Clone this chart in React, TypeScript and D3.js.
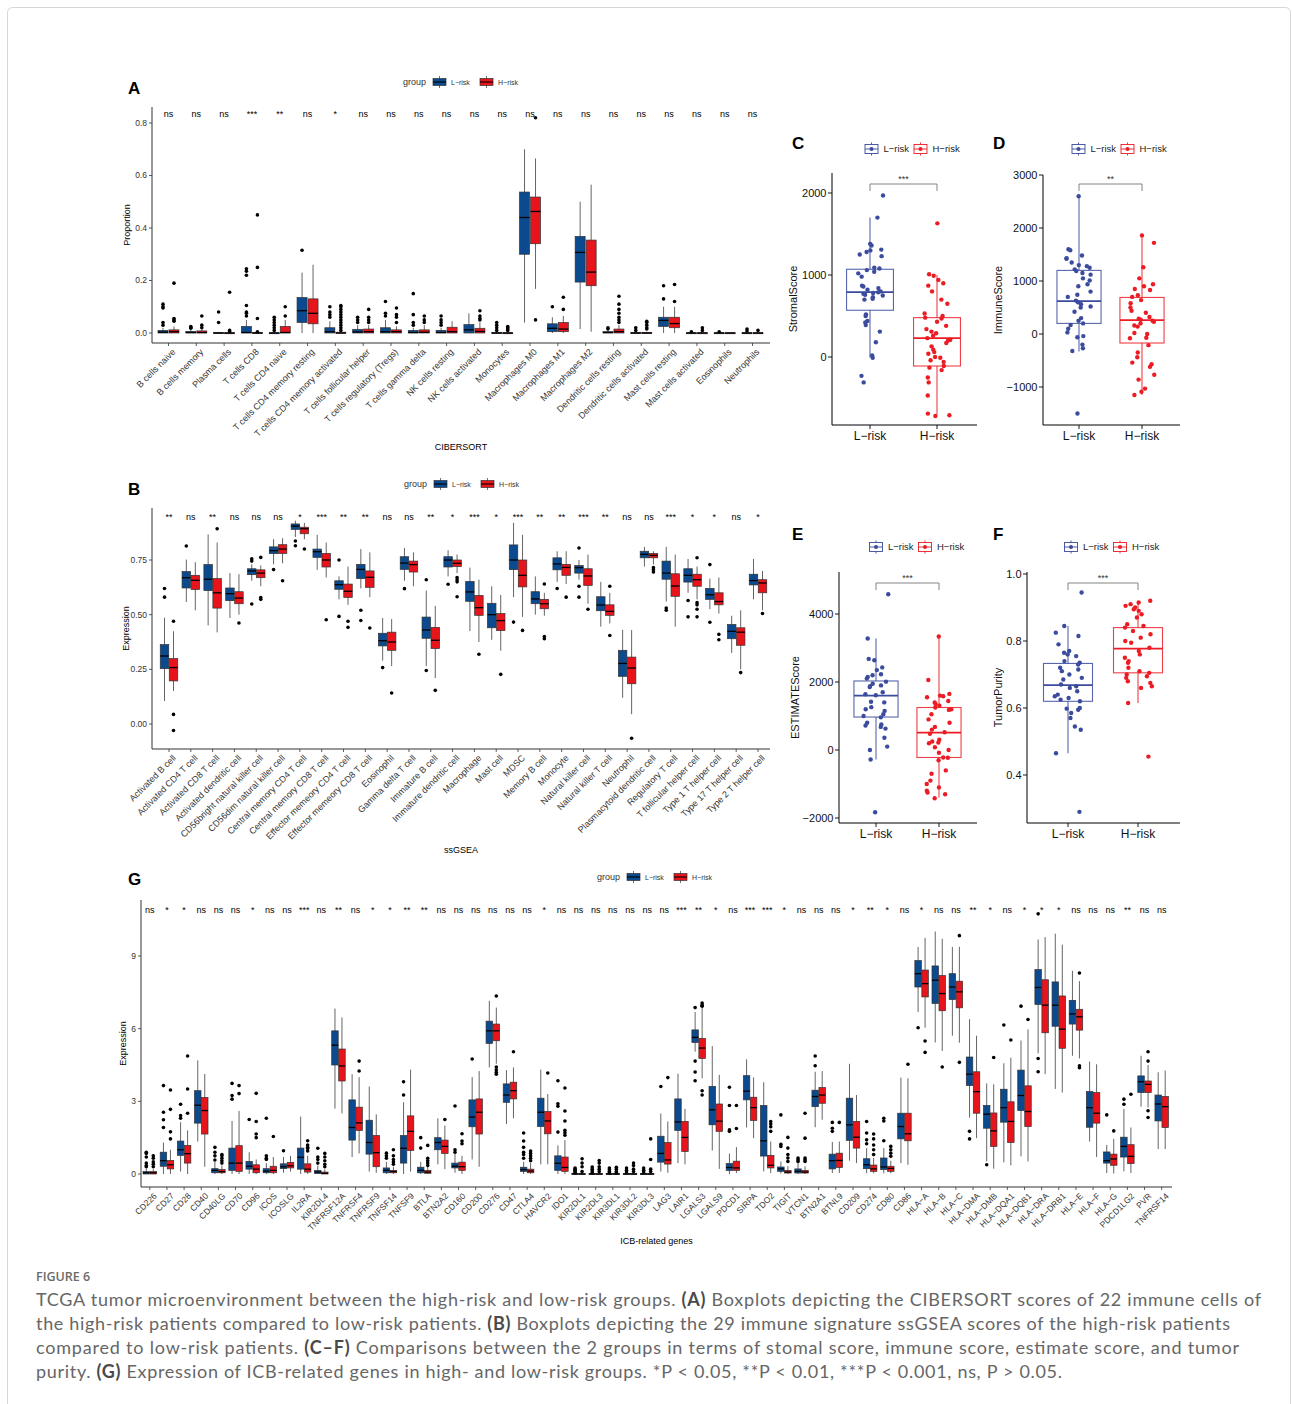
import React from 'react';
import * as d3 from 'd3';

// [lower whisker, q1, median, q3, upper whisker, outliers]
type Box = [number, number, number, number, number, number[]];

if (typeof document !== 'undefined') document.body.style.margin = '0';

const SANS = 'Liberation Sans, Arial, Helvetica, sans-serif';
const LOW = '#0B4A8E';
const HIGH = '#E8141B';
const DOT_LOW = '#3B4B9E';
const DOT_HIGH = '#EC1C24';
const groups = ['L−risk', 'H−risk'];

// ---------- A: CIBERSORT ----------
const aCats = ['B cells naive', 'B cells memory', 'Plasma cells', 'T cells CD8', 'T cells CD4 naive',
  'T cells CD4 memory resting', 'T cells CD4 memory activated', 'T cells follicular helper',
  'T cells regulatory (Tregs)', 'T cells gamma delta', 'NK cells resting', 'NK cells activated',
  'Monocytes', 'Macrophages M0', 'Macrophages M1', 'Macrophages M2', 'Dendritic cells resting',
  'Dendritic cells activated', 'Mast cells resting', 'Mast cells activated', 'Eosinophils', 'Neutrophils'];
const aSig = ['ns', 'ns', 'ns', '***', '**', 'ns', '*', 'ns', 'ns', 'ns', 'ns', 'ns', 'ns', 'ns', 'ns',
  'ns', 'ns', 'ns', 'ns', 'ns', 'ns', 'ns'];
const aLow: Box[] = [
  [0, 0, 0.003, 0.01, 0.02, [0.03, 0.04, 0.095, 0.1, 0.11]],
  [0, 0, 0.002, 0.006, 0.012, [0.018, 0.022, 0.025]],
  [0, 0, 0, 0.002, 0.004, [0.04, 0.08]],
  [0, 0, 0.002, 0.025, 0.05, [0.065, 0.075, 0.08, 0.105, 0.22, 0.235, 0.245]],
  [0, 0, 0, 0.001, 0.002, [0.01, 0.02, 0.03, 0.04, 0.05, 0.06]],
  [0, 0.04, 0.085, 0.135, 0.23, [0.315]],
  [0, 0, 0.005, 0.02, 0.045, [0.06, 0.07, 0.08, 0.1]],
  [0, 0, 0.004, 0.014, 0.03, [0.04, 0.05, 0.06]],
  [0, 0, 0.005, 0.02, 0.05, [0.065, 0.075, 0.12]],
  [0, 0, 0.002, 0.01, 0.02, [0.03, 0.04, 0.07, 0.15]],
  [0, 0, 0.002, 0.01, 0.02, [0.03, 0.04, 0.05, 0.065]],
  [0, 0, 0.012, 0.032, 0.075, []],
  [0, 0, 0, 0.002, 0.004, [0.01, 0.02, 0.03, 0.04]],
  [0.04, 0.3, 0.44, 0.537, 0.7, []],
  [0, 0.005, 0.018, 0.035, 0.06, [0.1]],
  [0.015, 0.194, 0.307, 0.368, 0.5, []],
  [0, 0, 0.002, 0.005, 0.01, [0.015, 0.02]],
  [0, 0, 0, 0.002, 0.004, [0.01, 0.02]],
  [0, 0.025, 0.048, 0.06, 0.1, [0.13, 0.18]],
  [0, 0, 0, 0.001, 0.002, [0.005]],
  [0, 0, 0, 0.001, 0.002, [0.005]],
  [0, 0, 0, 0.001, 0.003, [0.008, 0.015]],
];
const aHigh: Box[] = [
  [0, 0, 0.005, 0.012, 0.025, [0.045, 0.05, 0.055, 0.19]],
  [0, 0, 0.002, 0.008, 0.015, [0.02, 0.03, 0.065]],
  [0, 0, 0, 0.001, 0.002, [0.005, 0.01, 0.155]],
  [0, 0, 0, 0.002, 0.004, [0.005, 0.055, 0.25, 0.45]],
  [0, 0, 0.002, 0.025, 0.05, [0.065, 0.1]],
  [0, 0.035, 0.075, 0.13, 0.26, []],
  [0, 0, 0, 0.003, 0.006, [0.01, 0.02, 0.03, 0.04, 0.05, 0.06, 0.07, 0.08, 0.09, 0.1, 0.105]],
  [0, 0, 0.005, 0.015, 0.03, [0.04, 0.05, 0.06, 0.09]],
  [0, 0, 0.005, 0.012, 0.025, [0.04, 0.06, 0.07, 0.095]],
  [0, 0, 0.003, 0.012, 0.03, [0.04, 0.05, 0.065]],
  [0, 0, 0.005, 0.022, 0.045, []],
  [0, 0, 0.006, 0.018, 0.04, [0.05, 0.055, 0.065, 0.085]],
  [0, 0, 0, 0.001, 0.002, [0.01, 0.015, 0.02, 0.025]],
  [0.168, 0.34, 0.463, 0.518, 0.665, [0.05, 0.82]],
  [0, 0.005, 0.015, 0.04, 0.065, [0.09, 0.136]],
  [0.005, 0.18, 0.232, 0.354, 0.565, []],
  [0, 0, 0.005, 0.015, 0.03, [0.04, 0.05, 0.06, 0.075, 0.09, 0.11, 0.14]],
  [0, 0, 0, 0.002, 0.005, [0.015, 0.02, 0.03, 0.04, 0.045]],
  [0, 0.02, 0.036, 0.06, 0.1, [0.12, 0.185]],
  [0, 0, 0, 0.001, 0.002, [0.01, 0.02]],
  [0, 0, 0, 0.001, 0.002, []],
  [0, 0, 0, 0.001, 0.003, [0.01]],
];
const aTicks = [0, 0.2, 0.4, 0.6, 0.8];
const aTickLabels = ['0.0', '0.2', '0.4', '0.6', '0.8'];

// ---------- B: ssGSEA ----------
const bCats = ['Activated B cell', 'Activated CD4 T cell', 'Activated CD8 T cell', 'Activated dendritic cell',
  'CD56bright natural killer cell', 'CD56dim natural killer cell', 'Central memory CD4 T cell',
  'Central memory CD8 T cell', 'Effector memeory CD4 T cell', 'Effector memeory CD8 T cell', 'Eosinophil',
  'Gamma delta T cell', 'Immature  B cell', 'Immature dendritic cell', 'Macrophage', 'Mast cell', 'MDSC',
  'Memory B cell', 'Monocyte', 'Natural killer cell', 'Natural killer T cell', 'Neutrophil',
  'Plasmacytoid dendritic cell', 'Regulatory T cell', 'T follicular helper cell', 'Type 1 T helper cell',
  'Type 17 T helper cell', 'Type 2 T helper cell'];
const bSig = ['**', 'ns', '**', 'ns', 'ns', 'ns', '*', '***', '**', '**', 'ns', 'ns', '**', '*', '***', '*',
  '***', '**', '**', '***', '**', 'ns', 'ns', '***', '*', '*', 'ns', '*'];
const bLow: Box[] = [
  [0.105, 0.253, 0.311, 0.363, 0.486, [0.58, 0.62]],
  [0.558, 0.622, 0.669, 0.697, 0.752, [0.814]],
  [0.451, 0.61, 0.662, 0.729, 0.867, []],
  [0.485, 0.564, 0.596, 0.622, 0.69, []],
  [0.655, 0.683, 0.7, 0.71, 0.73, [0.745, 0.755, 0.549]],
  [0.73, 0.779, 0.793, 0.81, 0.845, [0.706]],
  [0.855, 0.89, 0.905, 0.915, 0.93, [0.837, 0.815]],
  [0.705, 0.762, 0.788, 0.8, 0.865, []],
  [0.57, 0.616, 0.637, 0.655, 0.675, [0.75, 0.492]],
  [0.62, 0.665, 0.707, 0.73, 0.8, [0.52, 0.473]],
  [0.29, 0.357, 0.381, 0.415, 0.485, [0.258]],
  [0.655, 0.707, 0.736, 0.765, 0.805, [0.619]],
  [0.265, 0.392, 0.43, 0.489, 0.61, [0.66, 0.245]],
  [0.675, 0.718, 0.75, 0.765, 0.795, [0.639]],
  [0.425, 0.561, 0.604, 0.652, 0.715, []],
  [0.385, 0.44, 0.5, 0.552, 0.63, []],
  [0.58, 0.706, 0.75, 0.819, 0.92, [0.466]],
  [0.5, 0.55, 0.572, 0.605, 0.675, []],
  [0.65, 0.705, 0.732, 0.76, 0.79, [0.62]],
  [0.66, 0.69, 0.715, 0.725, 0.75, [0.805, 0.63, 0.58]],
  [0.445, 0.518, 0.544, 0.582, 0.65, []],
  [0.12, 0.218, 0.277, 0.337, 0.43, []],
  [0.72, 0.76, 0.776, 0.79, 0.81, []],
  [0.56, 0.662, 0.69, 0.745, 0.81, [0.53, 0.52]],
  [0.6, 0.649, 0.68, 0.71, 0.755, [0.565, 0.49]],
  [0.525, 0.57, 0.591, 0.62, 0.665, [0.729, 0.465]],
  [0.325, 0.39, 0.424, 0.455, 0.495, []],
  [0.57, 0.636, 0.656, 0.685, 0.755, []],
];
const bHigh: Box[] = [
  [0.151, 0.197, 0.258, 0.299, 0.424, [0.47, 0.044, -0.03]],
  [0.52, 0.615, 0.657, 0.68, 0.74, []],
  [0.419, 0.53, 0.6, 0.665, 0.83, [0.893]],
  [0.5, 0.55, 0.576, 0.605, 0.685, [0.462]],
  [0.63, 0.669, 0.69, 0.705, 0.725, [0.762, 0.578, 0.57]],
  [0.735, 0.78, 0.8, 0.82, 0.85, [0.655]],
  [0.845, 0.87, 0.893, 0.9, 0.92, [0.8]],
  [0.67, 0.718, 0.75, 0.78, 0.83, [0.477]],
  [0.545, 0.579, 0.607, 0.64, 0.72, [0.47, 0.442]],
  [0.58, 0.625, 0.671, 0.7, 0.785, [0.439]],
  [0.265, 0.337, 0.375, 0.42, 0.48, [0.142]],
  [0.63, 0.695, 0.729, 0.745, 0.785, []],
  [0.21, 0.345, 0.383, 0.442, 0.54, [0.154]],
  [0.69, 0.72, 0.735, 0.75, 0.775, [0.67, 0.66, 0.65, 0.582]],
  [0.375, 0.497, 0.532, 0.588, 0.66, [0.319]],
  [0.335, 0.427, 0.473, 0.505, 0.59, [0.227]],
  [0.49, 0.627, 0.68, 0.75, 0.865, [0.428]],
  [0.495, 0.527, 0.55, 0.57, 0.6, [0.64, 0.4, 0.39]],
  [0.64, 0.68, 0.716, 0.73, 0.79, [0.58]],
  [0.55, 0.634, 0.677, 0.71, 0.775, [0.525]],
  [0.46, 0.497, 0.515, 0.545, 0.6, [0.63, 0.405]],
  [0.045, 0.184, 0.256, 0.306, 0.43, [-0.065]],
  [0.73, 0.76, 0.771, 0.78, 0.79, [0.715, 0.705, 0.695]],
  [0.445, 0.584, 0.631, 0.687, 0.775, []],
  [0.57, 0.63, 0.66, 0.685, 0.72, [0.76, 0.555, 0.545, 0.525, 0.49]],
  [0.505, 0.545, 0.56, 0.6, 0.67, [0.41, 0.385]],
  [0.25, 0.36, 0.42, 0.44, 0.52, [0.235]],
  [0.52, 0.6, 0.645, 0.66, 0.7, [0.505]],
];
const bTicks = [0, 0.25, 0.5, 0.75];
const bTickLabels = ['0.00', '0.25', '0.50', '0.75'];

// ---------- G: ICB-related genes ----------
const gCats = ['CD226', 'CD27', 'CD28', 'CD40', 'CD40LG', 'CD70', 'CD96', 'ICOS', 'ICOSLG', 'IL2RA', 'KIR2DL4',
  'TNFRSF12A', 'TNFRSF4', 'TNFRSF9', 'TNFSF14', 'TNFSF9', 'BTLA', 'BTN2A2', 'CD160', 'CD200', 'CD276', 'CD47',
  'CTLA4', 'HAVCR2', 'IDO1', 'KIR2DL1', 'KIR2DL3', 'KIR3DL1', 'KIR3DL2', 'KIR3DL3', 'LAG3', 'LAIR1', 'LGALS3',
  'LGALS9', 'PDCD1', 'SIRPA', 'TDO2', 'TIGIT', 'VTCN1', 'BTN2A1', 'BTNL9', 'CD209', 'CD274', 'CD80', 'CD86',
  'HLA−A', 'HLA−B', 'HLA−C', 'HLA−DMA', 'HLA−DMB', 'HLA−DQA1', 'HLA−DQB1', 'HLA−DRA', 'HLA−DRB1', 'HLA−E',
  'HLA−F', 'HLA−G', 'PDCD1LG2', 'PVR', 'TNFRSF14'];
const gSig = ['ns', '*', '*', 'ns', 'ns', 'ns', '*', 'ns', 'ns', '***', 'ns', '**', 'ns', '*', '*', '**', '**',
  'ns', 'ns', 'ns', 'ns', 'ns', 'ns', '*', 'ns', 'ns', 'ns', 'ns', 'ns', 'ns', 'ns', '***', '**', '*', 'ns',
  '***', '***', '*', 'ns', 'ns', 'ns', '*', '**', '*', 'ns', '*', 'ns', 'ns', '**', '*', 'ns', '*', '*', '*',
  'ns', 'ns', 'ns', '**', 'ns', 'ns'];
const gLow: Box[] = [
  [0, 0, 0.05, 0.1, 0.22, [0.3, 0.35, 0.45, 0.7, 0.85, 0.9]],
  [0, 0.32, 0.55, 0.9, 1.3, [1.92, 2.24, 2.55, 3.65]],
  [0.1, 0.77, 1.0, 1.36, 2.14, [2.3, 2.41, 2.88]],
  [1.34, 2.1, 2.84, 3.44, 4.69, []],
  [0, 0.05, 0.15, 0.22, 0.5, [0.58, 0.75, 0.9, 1.1]],
  [0, 0.15, 0.45, 1.07, 2.19, [3.09, 3.24, 3.74]],
  [0, 0.2, 0.32, 0.52, 0.9, [2.25]],
  [0, 0.05, 0.12, 0.22, 0.45, [0.6, 0.65, 0.75, 2.3]],
  [0.05, 0.22, 0.3, 0.42, 0.7, [0.96]],
  [0, 0.2, 0.69, 1.07, 2.37, []],
  [0, 0.02, 0.08, 0.15, 0.35, [0.45, 0.6, 0.7, 1.06]],
  [2.7, 4.5, 5.32, 5.91, 6.83, []],
  [0.7, 1.4, 1.92, 3.06, 4.12, []],
  [0.1, 0.82, 1.3, 2.22, 3.61, []],
  [0, 0.05, 0.15, 0.25, 0.5, [0.65, 0.75, 0.86]],
  [0, 0.45, 1.06, 1.59, 2.96, [3.26, 3.81]],
  [0, 0.05, 0.15, 0.28, 0.5, [1.07, 1.5]],
  [0.4, 1.0, 1.3, 1.5, 2.3, []],
  [0.05, 0.25, 0.32, 0.45, 0.85, [0.9, 1.0, 2.81]],
  [0.6, 1.95, 2.35, 3.06, 4.0, [4.75]],
  [4.4, 5.39, 5.91, 6.31, 7.15, []],
  [2.06, 2.96, 3.26, 3.72, 4.29, []],
  [0, 0.1, 0.18, 0.28, 0.5, [0.65, 0.8, 0.9, 1.1, 1.36, 1.69]],
  [0.4, 1.96, 2.55, 3.13, 4.31, []],
  [0, 0.15, 0.44, 0.75, 1.18, [1.73, 2.8, 2.9, 3.85]],
  [0, 0, 0, 0.03, 0.04, [0.05, 0.1, 0.15, 0.2, 0.25]],
  [0, 0, 0, 0.02, 0.04, [0.05, 0.12, 0.2, 0.29]],
  [0, 0, 0, 0.02, 0.04, [0.05, 0.1, 0.18, 0.25]],
  [0, 0, 0, 0.02, 0.04, [0.08, 0.15, 0.25]],
  [0, 0, 0, 0.02, 0.04, [0.08, 0.15, 0.25]],
  [0.1, 0.49, 0.85, 1.56, 2.5, [3.61]],
  [0.45, 1.8, 2.15, 3.1, 4.14, []],
  [5.05, 5.43, 5.64, 5.95, 6.69, [6.87, 4.66, 4.21, 3.85]],
  [0.97, 2.03, 2.65, 3.62, 5.28, []],
  [0, 0.15, 0.27, 0.43, 0.84, [1.76, 1.82, 2.83, 3.58]],
  [1.92, 3.06, 3.42, 4.06, 4.73, []],
  [0.11, 0.74, 1.37, 2.83, 3.79, []],
  [0.02, 0.11, 0.21, 0.29, 0.52, [1.14, 1.23, 2.44]],
  [0, 0.04, 0.11, 0.21, 0.45, [0.52, 0.59, 0.66]],
  [1.93, 2.78, 3.2, 3.46, 4.22, [4.47, 4.87]],
  [0.04, 0.21, 0.55, 0.82, 1.32, [1.76, 1.89, 2.13]],
  [0.55, 1.39, 2.03, 3.13, 4.55, []],
  [0.03, 0.22, 0.38, 0.63, 1.07, [1.25, 1.41, 1.69, 2.17]],
  [0.03, 0.18, 0.29, 0.66, 1.07, [1.37, 2.19, 2.3]],
  [0.45, 1.45, 1.96, 2.51, 3.98, []],
  [6.69, 7.72, 8.27, 8.81, 9.37, [6.04]],
  [5.43, 7.04, 8.0, 8.59, 10.01, []],
  [5.71, 7.2, 7.72, 8.27, 9.37, []],
  [2.33, 3.65, 4.12, 4.83, 6.39, [1.76, 1.45]],
  [0.52, 1.89, 2.47, 2.83, 3.74, [0.38]],
  [0.48, 2.14, 2.74, 3.5, 4.57, [6.15]],
  [0.73, 2.62, 3.24, 4.29, 5.51, [6.93]],
  [4.98, 7.0, 7.7, 8.44, 9.68, [4.77, 4.22, 10.74]],
  [3.51, 6.1, 6.97, 7.93, 9.92, []],
  [4.88, 6.19, 6.61, 7.17, 8.39, []],
  [1.34, 1.93, 2.74, 3.4, 4.64, []],
  [0.04, 0.45, 0.55, 0.91, 1.2, [2.44]],
  [0.11, 0.7, 1.14, 1.52, 2.69, [2.88, 3.09]],
  [2.78, 3.36, 3.81, 4.05, 4.88, []],
  [1.03, 2.19, 2.89, 3.26, 4.2, []],
];
const gHigh: Box[] = [
  [0, 0, 0.05, 0.1, 0.2, [0.3, 0.4, 0.5, 0.65, 0.75]],
  [0, 0.21, 0.38, 0.56, 1.0, [1.45, 1.74, 2.67, 3.47]],
  [0, 0.45, 0.84, 1.18, 1.8, [2.51, 3.51, 4.87]],
  [0.3, 1.65, 2.62, 3.16, 4.13, []],
  [0, 0.05, 0.1, 0.18, 0.35, [0.45, 0.55, 0.65, 0.75, 0.8]],
  [0, 0.11, 0.45, 1.17, 2.6, [3.32, 3.65]],
  [0, 0.05, 0.2, 0.38, 0.6, [1.5, 1.65, 2.17, 3.33]],
  [0, 0.05, 0.15, 0.32, 0.7, [1.55]],
  [0.1, 0.25, 0.34, 0.48, 0.75, []],
  [0, 0.08, 0.2, 0.42, 0.75, [0.95, 1.05, 1.1, 1.2, 1.37]],
  [0, 0, 0.03, 0.08, 0.2, [0.3, 0.4, 0.55, 0.7, 0.85]],
  [2.5, 3.84, 4.46, 5.16, 6.46, []],
  [0.85, 1.8, 2.11, 2.76, 4.0, [4.25, 4.66]],
  [0.05, 0.3, 0.88, 1.59, 2.46, []],
  [0, 0.05, 0.1, 0.15, 0.3, [0.4, 0.5, 0.6, 0.75, 1.0]],
  [0.1, 0.97, 1.76, 2.4, 4.31, []],
  [0, 0.03, 0.08, 0.15, 0.3, [0.35, 0.45, 0.55, 0.65, 1.18]],
  [0.2, 0.85, 1.14, 1.4, 2.0, [2.25]],
  [0, 0.15, 0.3, 0.49, 0.75, [1.25, 1.36, 1.66]],
  [0.3, 1.65, 2.55, 3.1, 4.25, []],
  [4.55, 5.5, 5.91, 6.19, 6.87, [4.12, 4.2, 4.3, 4.42, 7.35]],
  [2.3, 3.1, 3.44, 3.79, 4.4, [5.05]],
  [0, 0.05, 0.12, 0.2, 0.45, [0.55, 0.65, 0.75, 0.85, 0.95]],
  [0.4, 1.66, 2.19, 2.58, 3.3, [4.17]],
  [0, 0.11, 0.27, 0.7, 1.4, [1.6, 1.7, 1.8, 2.19, 2.6, 3.55]],
  [0, 0, 0, 0.02, 0.04, [0.1, 0.3, 0.45, 0.63]],
  [0, 0, 0, 0.02, 0.04, [0.1, 0.2, 0.3, 0.45, 0.56]],
  [0, 0, 0, 0.02, 0.04, [0.05, 0.1, 0.2, 0.28]],
  [0, 0, 0, 0.02, 0.04, [0.1, 0.2, 0.35, 0.45]],
  [0, 0, 0, 0.02, 0.04, [0.1, 0.2, 0.6, 1.45]],
  [0.05, 0.41, 0.58, 1.3, 2.17, [3.98]],
  [0.4, 0.93, 1.51, 2.17, 2.69, []],
  [3.95, 4.77, 5.2, 5.6, 6.85, [7.06, 6.97, 6.93, 3.44, 3.26]],
  [0.21, 1.76, 2.18, 2.89, 4.09, []],
  [0.04, 0.15, 0.25, 0.53, 1.11, [1.88, 2.83]],
  [1.48, 2.21, 2.74, 3.17, 3.99, []],
  [0.04, 0.25, 0.36, 0.77, 1.34, [1.76, 1.95, 2.06, 2.17]],
  [0, 0.04, 0.08, 0.15, 0.32, [0.52, 0.66, 0.8, 1.07, 1.51]],
  [0, 0.04, 0.08, 0.15, 0.32, [0.52, 0.59, 0.66, 1.48, 2.51]],
  [2.24, 2.92, 3.26, 3.57, 4.25, []],
  [0.04, 0.27, 0.56, 0.86, 1.34, [2.13]],
  [0.45, 1.07, 1.52, 2.17, 3.26, []],
  [0.03, 0.11, 0.21, 0.37, 0.66, [0.8, 1.0, 1.2, 1.45, 1.65]],
  [0.03, 0.11, 0.23, 0.32, 0.55, [0.73, 0.86, 1.0, 1.14]],
  [0.38, 1.37, 1.66, 2.51, 3.95, [4.53]],
  [6.04, 7.31, 7.86, 8.42, 9.75, [5.49, 5.02]],
  [5.08, 6.74, 7.45, 8.19, 9.71, [4.42]],
  [5.42, 6.86, 7.52, 7.96, 9.38, [9.84, 4.61]],
  [1.48, 2.51, 3.4, 4.22, 5.71, []],
  [0.22, 1.14, 1.78, 2.52, 3.7, [4.81]],
  [0.36, 1.3, 2.17, 2.98, 4.8, [5.53]],
  [0.52, 1.96, 2.58, 3.64, 5.97, [6.38]],
  [4.12, 5.83, 6.97, 8.02, 9.78, []],
  [3.36, 5.19, 5.98, 7.35, 9.47, []],
  [4.77, 5.94, 6.49, 6.8, 7.96, [8.3, 4.47, 4.39]],
  [0.7, 2.1, 2.51, 3.36, 4.53, []],
  [0.02, 0.36, 0.62, 0.82, 1.45, [1.78]],
  [0.04, 0.43, 0.73, 1.21, 1.92, [3.29]],
  [2.75, 3.36, 3.7, 3.84, 4.5, [4.66, 5.05, 2.61, 2.33]],
  [1.03, 1.92, 2.78, 3.2, 4.27, []],
];
const gTicks = [0, 3, 6, 9];
const gTickLabels = ['0', '3', '6', '9'];

// ---------- C–F: ESTIMATE scores (jittered points + box) ----------
const cBoxL = [-10, 570, 790, 1070, 1700];
const cBoxH = [-700, -110, 230, 480, 1000];
const cPtsL = [1970, 1700, 1380, 1360, 1310, 1300, 1280, 1250, 1230, 1090, 1080, 1060, 1040, 1020, 980, 870,
  860, 840, 820, 800, 790, 780, 770, 760, 750, 730, 710, 700, 520, 500, 440, 420, 390, 310, 180, 20, -10, -230, -310];
const cPtsH = [1630, 1010, 990, 940, 900, 870, 800, 700, 650, 530, 500, 480, 470, 430, 380, 340, 310, 290, 260,
  230, 210, 200, 170, 130, 90, 60, 40, 0, -10, -40, -60, -110, -130, -160, -250, -310, -470, -690, -710, -720];
const dBoxL = [-330, 200, 620, 1200, 2600];
const dBoxH = [-1150, -170, 260, 690, 1850];
const dPtsL = [2600, 1600, 1580, 1480, 1430, 1420, 1350, 1300, 1280, 1250, 1220, 1190, 1150, 1120, 1050, 1010,
  940, 900, 800, 740, 700, 630, 600, 560, 520, 500, 420, 300, 250, 200, 170, 100, 30, -40, -60, -200, -270, -320, -1500];
const dPtsH = [1860, 1720, 1260, 1050, 940, 900, 850, 830, 730, 700, 640, 580, 500, 440, 400, 320, 290, 270, 250,
  230, 200, 160, 140, 20, 0, -70, -80, -210, -350, -440, -540, -570, -620, -770, -860, -1030, -1090, -1150];
const eBoxL = [-280, 970, 1600, 2030, 3280];
const eBoxH = [-1400, -220, 510, 1250, 3340];
const ePtsL = [4580, 3280, 2680, 2640, 2430, 2350, 2230, 2200, 2150, 2100, 2010, 1950, 1900, 1880, 1850, 1700,
  1640, 1610, 1420, 1400, 1260, 1200, 1150, 1050, 1000, 960, 800, 750, 720, 680, 630, 360, 100, 0, -280, -1830];
const ePtsH = [3340, 2060, 1650, 1600, 1580, 1550, 1440, 1400, 1350, 1300, 1250, 1200, 1180, 1050, 900, 800, 680,
  600, 520, 480, 300, 250, 220, 200, 80, 0, -80, -220, -230, -300, -600, -700, -900, -1000, -1100, -1200, -1250,
  -1300, -1420];
const fBoxL = [0.465, 0.62, 0.668, 0.733, 0.845];
const fBoxH = [0.615, 0.705, 0.777, 0.84, 0.915];
const fPtsL = [0.945, 0.845, 0.825, 0.815, 0.79, 0.77, 0.765, 0.76, 0.755, 0.74, 0.735, 0.73, 0.72, 0.715, 0.71,
  0.7, 0.69, 0.685, 0.67, 0.665, 0.66, 0.65, 0.64, 0.635, 0.63, 0.625, 0.62, 0.6, 0.598, 0.595, 0.585, 0.57, 0.545,
  0.535, 0.465, 0.29];
const fPtsH = [0.92, 0.915, 0.91, 0.905, 0.9, 0.895, 0.89, 0.88, 0.87, 0.85, 0.845, 0.84, 0.83, 0.82, 0.81, 0.8,
  0.795, 0.78, 0.77, 0.76, 0.75, 0.74, 0.735, 0.72, 0.71, 0.705, 0.7, 0.695, 0.69, 0.68, 0.675, 0.665, 0.66, 0.615, 0.455];

// ---------- caption ----------
const captionLines: [string, boolean][][] = [
  [['TCGA tumor microenvironment between the high-risk and low-risk groups. ', false], ['(A)', true],
    [' Boxplots depicting the CIBERSORT scores of 22 immune cells of', false]],
  [['the high-risk patients compared to low-risk patients. ', false], ['(B)', true],
    [' Boxplots depicting the 29 immune signature ssGSEA scores of the high-risk patients', false]],
  [['compared to low-risk patients. ', false], ['(C–F)', true],
    [' Comparisons between the 2 groups in terms of stomal score, immune score, estimate score, and tumor', false]],
  [['purity. ', false], ['(G)', true],
    [' Expression of ICB-related genes in high- and low-risk groups. *P < 0.05, **P < 0.01, ***P < 0.001, ns, P > 0.05.', false]],
];
const captionWidths = [1225, 1194, 1203, 1026];

type BoxPanelProps = {
  cats: string[]; sig: string[]; low: Box[]; high: Box[];
  ticks: number[]; tickLabels: string[];
  yDomain: [number, number]; yRange: [number, number]; xRange: [number, number];
  axisX: number; axisRight: number; axisTop: number; axisBottom: number;
  boxW: number; dodge: number; sigY: number; labelSize: number;
  xTitle: string; xTitleY: number; yTitle: string; yTitleX: number;
  letter: string; letterY: number; legendX: number; legendY: number;
};

function GroupLegend({ x, y }: { x: number; y: number }) {
  return (
    <g fontFamily={SANS}>
      <text x={x} y={y + 3} fontSize={9} fill="#333">group</text>
      {[LOW, HIGH].map((c, i) => {
        const kx = x + 30 + i * 47;
        return (
          <g key={i}>
            <line x1={kx + 6.5} x2={kx + 6.5} y1={y - 6} y2={y + 6} stroke="#333" strokeWidth={0.7} />
            <rect x={kx} y={y - 3.5} width={13} height={7} fill={c} stroke="#333" strokeWidth={0.7} />
            <line x1={kx} x2={kx + 13} y1={y} y2={y} stroke="#000" strokeWidth={1.1} />
            <text x={kx + 18} y={y + 2.5} fontSize={7} fill="#333">{groups[i]}</text>
          </g>
        );
      })}
    </g>
  );
}

function BoxPanel(p: BoxPanelProps) {
  const x = d3.scalePoint<string>().domain(p.cats).range(p.xRange);
  const y = d3.scaleLinear().domain(p.yDomain).range(p.yRange);
  const yMid = (p.axisTop + p.axisBottom) / 2;

  const drawBox = (b: Box, cx: number, fill: string, k: string) => {
    const [lo, q1, md, q3, hi, out] = b;
    const h = Math.max(y(q1) - y(q3), 1);
    return (
      <g key={k}>
        <line x1={cx} x2={cx} y1={y(hi)} y2={y(lo)} stroke="#222" strokeWidth={0.7} />
        <rect x={cx - p.boxW / 2} y={y(q3)} width={p.boxW} height={h} fill={fill} stroke="#333" strokeWidth={0.7} />
        <line x1={cx - p.boxW / 2} x2={cx + p.boxW / 2} y1={y(md)} y2={y(md)} stroke="#000" strokeWidth={1.3} />
        {out.map((o, i) => <circle key={i} cx={cx} cy={y(o)} r={1.8} fill="#000" />)}
      </g>
    );
  };

  return (
    <g fontFamily={SANS}>
      <text x={128} y={p.letterY} fontSize={17} fontWeight="bold" fill="#000">{p.letter}</text>
      <GroupLegend x={p.legendX} y={p.legendY} />
      {p.cats.map((c, i) => (
        <g key={c}>
          {drawBox(p.low[i], x(c)! - p.dodge, LOW, 'l')}
          {drawBox(p.high[i], x(c)! + p.dodge, HIGH, 'h')}
          <text x={x(c)} y={p.sigY} fontSize={9} textAnchor="middle" fill="#000">{p.sig[i]}</text>
        </g>
      ))}
      <line x1={p.axisX} x2={p.axisX} y1={p.axisTop} y2={p.axisBottom} stroke="#333" strokeWidth={1} />
      <line x1={p.axisX} x2={p.axisRight} y1={p.axisBottom} y2={p.axisBottom} stroke="#333" strokeWidth={1} />
      {p.ticks.map((t, i) => (
        <g key={t}>
          <line x1={p.axisX - 3} x2={p.axisX} y1={y(t)} y2={y(t)} stroke="#333" strokeWidth={0.8} />
          <text x={p.axisX - 5} y={y(t)} dy="0.35em" fontSize={8.5} textAnchor="end" fill="#333">{p.tickLabels[i]}</text>
        </g>
      ))}
      {p.cats.map((c) => (
        <g key={c}>
          <line x1={x(c)} x2={x(c)} y1={p.axisBottom} y2={p.axisBottom + 3} stroke="#333" strokeWidth={0.8} />
          <text transform={`translate(${x(c)! + 3},${p.axisBottom + 5}) rotate(-45)`} fontSize={p.labelSize}
            textAnchor="end" dominantBaseline="hanging" fill="#333">{c}</text>
        </g>
      ))}
      <text x={(p.axisX + p.axisRight) / 2} y={p.xTitleY} fontSize={9} textAnchor="middle" fill="#000">{p.xTitle}</text>
      <text transform={`translate(${p.yTitleX},${yMid}) rotate(-90)`} fontSize={9} textAnchor="middle" fill="#000">{p.yTitle}</text>
    </g>
  );
}

type JitterProps = {
  letter: string; letterX: number; letterY: number;
  axisX: number; axisRight: number; top: number; bottom: number;
  xL: number; xH: number;
  yDomain: [number, number]; yRange: [number, number];
  ticks: number[]; tickLabels: string[];
  yTitle: string; yTitleX: number;
  sig: string; bracketY: number;
  legendX: number; legendY: number;
  boxL: number[]; boxH: number[]; ptsL: number[]; ptsH: number[]; seed: number;
};

function JitterPanel(p: JitterProps) {
  const y = d3.scaleLinear().domain(p.yDomain).range(p.yRange);
  const gap = p.xH - p.xL;
  const bw = gap * 0.7;
  const rand = d3.randomUniform.source(d3.randomLcg(p.seed))(-gap * 0.2, gap * 0.2);
  const yMid = (p.top + p.bottom) / 2;
  const series = [
    { cx: p.xL, box: p.boxL, pts: p.ptsL, col: DOT_LOW },
    { cx: p.xH, box: p.boxH, pts: p.ptsH, col: DOT_HIGH },
  ];
  return (
    <g fontFamily={SANS}>
      <text x={p.letterX} y={p.letterY} fontSize={17} fontWeight="bold" fill="#000">{p.letter}</text>
      {series.map((s, i) => {
        const kx = p.legendX + i * 49;
        return (
          <g key={i}>
            <line x1={kx} x2={kx} y1={p.legendY - 6.5} y2={p.legendY + 6.5} stroke={s.col} strokeWidth={0.9} />
            <rect x={kx - 6.5} y={p.legendY - 4.5} width={13} height={9} fill="#fff" stroke={s.col} strokeWidth={0.9} />
            <line x1={kx - 6.5} x2={kx + 6.5} y1={p.legendY} y2={p.legendY} stroke={s.col} strokeWidth={0.9} />
            <circle cx={kx} cy={p.legendY} r={2} fill={s.col} />
            <text x={kx + 12} y={p.legendY} dy="0.35em" fontSize={9.5} fill="#222">{groups[i]}</text>
          </g>
        );
      })}
      {series.map((s, i) => {
        const [lo, q1, md, q3, hi] = s.box;
        return (
          <g key={i}>
            <line x1={s.cx} x2={s.cx} y1={y(hi)} y2={y(q3)} stroke={s.col} strokeWidth={1.1} strokeOpacity={0.85} />
            <line x1={s.cx} x2={s.cx} y1={y(q1)} y2={y(lo)} stroke={s.col} strokeWidth={1.1} strokeOpacity={0.85} />
            <rect x={s.cx - bw / 2} y={y(q3)} width={bw} height={y(q1) - y(q3)} fill="none" stroke={s.col}
              strokeWidth={1.1} strokeOpacity={0.85} />
            <line x1={s.cx - bw / 2} x2={s.cx + bw / 2} y1={y(md)} y2={y(md)} stroke={s.col} strokeWidth={1.8} />
            {s.pts.map((v, j) => <circle key={j} cx={s.cx + rand()} cy={y(v)} r={2.2} fill={s.col} />)}
          </g>
        );
      })}
      <path d={`M${p.xL},${p.bracketY + 7}V${p.bracketY}H${p.xH}V${p.bracketY + 7}`} fill="none" stroke="#777" strokeWidth={0.9} />
      <text x={(p.xL + p.xH) / 2} y={p.bracketY - 2} fontSize={9} textAnchor="middle" fill="#333">{p.sig}</text>
      <line x1={p.axisX} x2={p.axisX} y1={p.top} y2={p.bottom} stroke="#000" strokeWidth={1} />
      <line x1={p.axisX} x2={p.axisRight} y1={p.bottom} y2={p.bottom} stroke="#000" strokeWidth={1} />
      {p.ticks.map((t, i) => (
        <g key={t}>
          <line x1={p.axisX - 4} x2={p.axisX} y1={y(t)} y2={y(t)} stroke="#000" strokeWidth={0.9} />
          <text x={p.axisX - 5.5} y={y(t)} dy="0.35em" fontSize={11} textAnchor="end" fill="#111">{p.tickLabels[i]}</text>
        </g>
      ))}
      {[p.xL, p.xH].map((cx, i) => (
        <g key={i}>
          <line x1={cx} x2={cx} y1={p.bottom} y2={p.bottom + 4} stroke="#000" strokeWidth={0.9} />
          <text x={cx} y={p.bottom + 15} fontSize={12} textAnchor="middle" fill="#111">{groups[i]}</text>
        </g>
      ))}
      <text transform={`translate(${p.yTitleX},${yMid}) rotate(-90)`} fontSize={11} textAnchor="middle" fill="#111">{p.yTitle}</text>
    </g>
  );
}

export default function App() {
  return (
    <svg width={1292} height={1404} style={{ display: 'block', background: '#fff' }}>
      <rect x={7.5} y={7.5} width={1283} height={1420} rx={5} fill="#fff" stroke="#d6d6d6" strokeWidth={1} />

      <BoxPanel cats={aCats} sig={aSig} low={aLow} high={aHigh} ticks={aTicks} tickLabels={aTickLabels}
        yDomain={[0, 0.8]} yRange={[333, 123]} xRange={[168.5, 752.5]}
        axisX={152} axisRight={770} axisTop={107} axisBottom={343}
        boxW={10} dodge={5.5} sigY={117} labelSize={9}
        xTitle="CIBERSORT" xTitleY={450} yTitle="Proportion" yTitleX={130}
        letter="A" letterY={94} legendX={403} legendY={82} />

      <BoxPanel cats={bCats} sig={bSig} low={bLow} high={bHigh} ticks={bTicks} tickLabels={bTickLabels}
        yDomain={[0, 0.75]} yRange={[724, 560]} xRange={[169, 758]}
        axisX={152} axisRight={770} axisTop={508} axisBottom={749}
        boxW={8.5} dodge={4.5} sigY={520} labelSize={9}
        xTitle="ssGSEA" xTitleY={853} yTitle="Expression" yTitleX={129}
        letter="B" letterY={495} legendX={404} legendY={484} />

      <BoxPanel cats={gCats} sig={gSig} low={gLow} high={gHigh} ticks={gTicks} tickLabels={gTickLabels}
        yDomain={[0, 9]} yRange={[1174, 956]} xRange={[149.8, 1161.7]}
        axisX={141} axisRight={1172} axisTop={900} axisBottom={1187}
        boxW={6.5} dodge={3.5} sigY={913} labelSize={8.5}
        xTitle="ICB-related genes" xTitleY={1244} yTitle="Expression" yTitleX={126}
        letter="G" letterY={885} legendX={597} legendY={877} />

      <JitterPanel letter="C" letterX={792} letterY={149} axisX={832} axisRight={977} top={173} bottom={425}
        xL={870} xH={937} yDomain={[0, 2000]} yRange={[357, 193]} ticks={[0, 1000, 2000]}
        tickLabels={['0', '1000', '2000']} yTitle="StromalScore" yTitleX={797} sig="***" bracketY={184}
        legendX={871.5} legendY={149} boxL={cBoxL} boxH={cBoxH} ptsL={cPtsL} ptsH={cPtsH} seed={0.11} />
      <JitterPanel letter="D" letterX={993} letterY={149} axisX={1043} axisRight={1180} top={175} bottom={425}
        xL={1079} xH={1142} yDomain={[0, 3000]} yRange={[334, 175]} ticks={[-1000, 0, 1000, 2000, 3000]}
        tickLabels={['−1000', '0', '1000', '2000', '3000']} yTitle="ImmuneScore" yTitleX={1002} sig="**" bracketY={184}
        legendX={1078.5} legendY={149} boxL={dBoxL} boxH={dBoxH} ptsL={dPtsL} ptsH={dPtsH} seed={0.37} />
      <JitterPanel letter="E" letterX={792} letterY={540} axisX={839} axisRight={977} top={572} bottom={823}
        xL={876} xH={939} yDomain={[0, 4000]} yRange={[750, 614]} ticks={[-2000, 0, 2000, 4000]}
        tickLabels={['−2000', '0', '2000', '4000']} yTitle="ESTIMATEScore" yTitleX={799} sig="***" bracketY={583}
        legendX={876} legendY={547} boxL={eBoxL} boxH={eBoxH} ptsL={ePtsL} ptsH={ePtsH} seed={0.59} />
      <JitterPanel letter="F" letterX={993} letterY={540} axisX={1027} axisRight={1180} top={572} bottom={823}
        xL={1068} xH={1138} yDomain={[0.6, 1.0]} yRange={[708, 574]} ticks={[0.4, 0.6, 0.8, 1.0]}
        tickLabels={['0.4', '0.6', '0.8', '1.0']} yTitle="TumorPurity" yTitleX={1002} sig="***" bracketY={583}
        legendX={1071} legendY={547} boxL={fBoxL} boxH={fBoxH} ptsL={fPtsL} ptsH={fPtsH} seed={0.83} />

      <text x={36} y={1281} fontFamily="Open Sans, sans-serif" fontSize={12.5} fontWeight={600} fill="#6b6b6b">FIGURE 6</text>
      {captionLines.map((line, i) => (
        <text key={i} x={36} y={1306 + i * 24} fontFamily="Lato, Open Sans, sans-serif" fontSize={18}
          fill="#666" textLength={captionWidths[i]} lengthAdjust="spacing">
          {line.map(([t, b], j) => (
            <tspan key={j} fontWeight={b ? 700 : 400} fill={b ? '#4a4a4a' : '#666'}>{t}</tspan>
          ))}
        </text>
      ))}
    </svg>
  );
}
